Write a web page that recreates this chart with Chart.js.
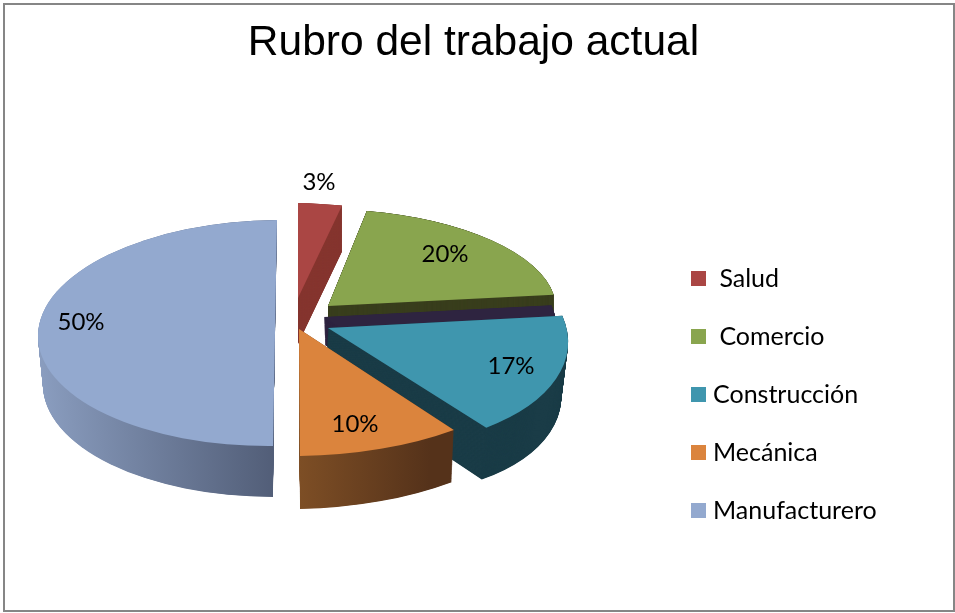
<!DOCTYPE html>
<html><head><meta charset="utf-8">
<style>html,body{margin:0;padding:0;background:#fff}canvas{display:block}</style>
<script src="https://cdn.jsdelivr.net/npm/chart.js@4/dist/chart.umd.min.js"></script>
</head><body><canvas id="c" width="955" height="613"></canvas>
<script>
const categories = [" Salud", " Comercio", "Construcción", "Mecánica", "Manufacturero"];
const values = [3, 20, 17, 10, 50];
const topColors = ["#AA4644", "#89A54E", "#3F96AE", "#DB843D", "#93A9CF"];
const chartTitle = "Rubro del trabajo actual";

// 3D projection of each exploded slice: [originX, originY, a, b, c, d]
const projection = [
  {top:[298,298,235,0,5,95],     bottom:[298,344,235,0,5,95],     wall:["#85352F"], label:[21,-116]},
  {top:[328,306,228,4,1,97],     bottom:[328,328,228,4,1,97],     wall:["#3A3F1E"], label:[117,-52]},
  {top:[328,328,239,22,3,121],   bottom:[325,375,235,23,10,122],  wall:["#1A3C47"], label:[183,38],
   back:{top:[324,317,232,22,3,118], bottom:[325,345,232,22,3,118], color:"#2E2440"}},
  {top:[299,329,262,1,-3,127],   bottom:[300,384,258,0,-5,125],   wall:["#7D4E25","#55321A"], span:[0,.5], label:[56,95]},
  {top:[275,333,237,-2,-2,113],  bottom:[273,385,230,0,0,112],    wall:["#8A9DBF","#525E78"], span:[-1,0], label:[-194,-11]}
];
const drawOrder = [0,1,2,4,3];
const legendPad = 33;

const pie3d = {
  id:'pie3d',
  afterLayout(chart){
    const l = chart.legend, w = l.right - l.left;
    l.left = 696.5 - legendPad; l.right = l.left + w;
    l.top += 88; l.bottom += 88;
  },
  beforeDraw(chart){
    const ctx = chart.ctx;
    ctx.save(); ctx.strokeStyle='#868686'; ctx.lineWidth=2;
    ctx.strokeRect(4,4,950,607); ctx.restore();
  },
  beforeDatasetsDraw(chart){
    const ctx = chart.ctx, meta = chart.getDatasetMeta(0);
    const paint = (el, m, fill) => {
      const R = el.outerRadius;
      ctx.save();
      ctx.transform(m[2]/R, m[4]/R, m[3]/R, m[5]/R, m[0], m[1]);
      ctx.translate(-el.x, -el.y);
      const ghost = Object.create(el);
      ghost.options = Object.assign({}, el.options, {backgroundColor: fill(el,R), borderWidth:0});
      ghost.draw(ctx);
      ctx.restore();
    };
    const extrude = (el, from, to, fill) => {
      const n = 110;
      for (let i=n;i>=0;i--){
        const t=i/n;
        paint(el, from.map((v,k)=>v+(to[k]-v)*t), fill);
      }
    };
    drawOrder.forEach(i=>{
      const el = meta.data[i], p = projection[i];
      if (p.back) extrude(el, p.back.top, p.back.bottom, ()=>p.back.color);
      const wallFill = (e,R)=>{
        if (p.wall.length===1) return p.wall[0];
        const g = ctx.createLinearGradient(e.x+p.span[0]*R,0,e.x+p.span[1]*R,0);
        g.addColorStop(0,p.wall[0]); g.addColorStop(1,p.wall[1]);
        return g;
      };
      extrude(el, p.top, p.bottom, wallFill);
      paint(el, p.top, ()=>topColors[i]);
    });
    ctx.save();
    ctx.font = '24px Lato'; ctx.fillStyle='#000'; ctx.textAlign='center'; ctx.textBaseline='middle';
    values.forEach((v,i)=>{
      const p = projection[i];
      ctx.fillText(v+'%', p.top[0]+p.label[0], p.top[1]+p.label[1]);
    });
    ctx.restore();
    return false;
  }
};

new Chart(document.getElementById('c'), {
  type:'pie',
  data:{labels:categories, datasets:[{data:values, backgroundColor:topColors, borderWidth:0}]},
  options:{
    responsive:false, animation:false, rotation:0,
    layout:{padding:{right:8}},
    plugins:{
      tooltip:{enabled:false},
      title:{display:true, text:chartTitle, color:'#000', font:{family:'"Liberation Sans"', size:42.5, weight:'normal'}, padding:{top:18,bottom:10}},
      legend:{position:'right', labels:{
        color:'#000', font:{family:'Lato', size:25}, boxWidth:4, boxHeight:4, padding:legendPad,
        generateLabels(chart){
          return Chart.overrides.pie.plugins.legend.labels.generateLabels(chart).map(it=>
            Object.assign(it,{strokeStyle:it.fillStyle, lineWidth:11}));
        }
      }}
    }
  },
  plugins:[pie3d]
});
</script></body></html>
